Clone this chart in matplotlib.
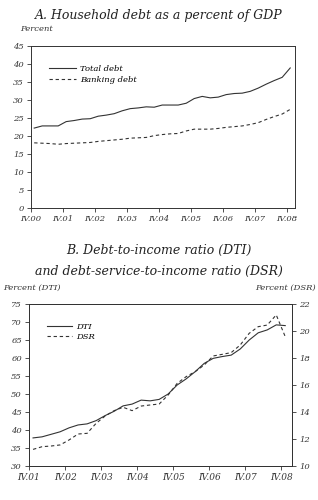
import matplotlib.pyplot as plt
import numpy as np

# Panel A: household debt, % of GDP, quarterly IV.00 .. IV.08
years_a = ["IV.00", "IV.01", "IV.02", "IV.03", "IV.04", "IV.05", "IV.06", "IV.07", "IV.08"]
total_debt = [22.2, 22.8, 22.8, 22.8, 24.0, 24.3, 24.7, 24.8, 25.5, 25.8, 26.2,
              27.0, 27.6, 27.8, 28.1, 28.0, 28.6, 28.6, 28.6, 29.1, 30.4, 31.0,
              30.6, 30.8, 31.5, 31.8, 31.9, 32.4, 33.3, 34.4, 35.4, 36.3, 38.9]
banking_debt = [18.1, 18.0, 17.9, 17.7, 17.9, 18.0, 18.1, 18.2, 18.5, 18.7, 18.9,
                19.1, 19.4, 19.5, 19.6, 20.1, 20.4, 20.6, 20.7, 21.4, 21.9, 21.9,
                21.9, 22.1, 22.4, 22.6, 22.8, 23.2, 23.7, 24.6, 25.4, 26.1, 27.4]

# Panel B: DTI (left axis) and DSR (right axis), IV.01 .. IV.08
years_b = ["IV.01", "IV.02", "IV.03", "IV.04", "IV.05", "IV.06", "IV.07", "IV.08"]
dti = [37.8, 38.1, 38.8, 39.5, 40.6, 41.4, 41.7, 42.6, 44.0, 45.2, 46.7, 47.2,
       48.3, 48.1, 48.5, 50.0, 52.5, 54.2, 56.2, 58.5, 59.9, 60.4, 60.8, 62.5,
       65.0, 67.0, 67.8, 69.2, 69.0]
dsr = [11.23, 11.43, 11.48, 11.56, 11.93, 12.37, 12.42, 13.16, 13.70, 14.10,
       14.35, 14.10, 14.44, 14.52, 14.59, 15.26, 16.12, 16.62, 16.99, 17.48,
       18.15, 18.27, 18.40, 18.96, 19.83, 20.32, 20.44, 21.19, 19.58]

plt.rcParams["font.family"] = "DejaVu Serif"
plt.rcParams["font.style"] = "italic"
col = "#333333"

fig = plt.figure(figsize=(3.18, 5.0), dpi=100)

# ---- Panel A
ax = fig.add_axes([31 / 318, 1 - 208 / 500, 264 / 318, 162 / 500])
xa = np.arange(len(total_debt)) + 0.4
ax.plot(xa, total_debt, color=col, lw=0.8, label="Total debt")
ax.plot(xa, banking_debt, color=col, lw=0.8, ls=(0, (3, 2.5)), label="Banking debt")
ax.set_xlim(0, 33)
ax.set_ylim(0, 45)
ax.set_yticks(range(0, 46, 5))
ax.set_xticks(np.arange(len(years_a)) * 4)
ax.set_xticklabels(years_a)
ax.tick_params(labelsize=6, direction="out", length=3, width=0.6, pad=2, colors=col)
for s in ax.spines.values():
    s.set_linewidth(0.7)
    s.set_color(col)
ax.legend(loc="upper left", bbox_to_anchor=(0.04, 0.93), frameon=False, fontsize=6,
          handlelength=3.2, handletextpad=0.5, labelspacing=0.4)
fig.text(0.5, 1 - 15 / 500, "A. Household debt as a percent of GDP", ha="center",
         va="center", fontsize=9, color="#222222")
fig.text(20 / 318, 1 - 29 / 500, "Percent", ha="left", va="center", fontsize=6,
         color=col)

# ---- Panel B
bx = fig.add_axes([29 / 318, 1 - 466 / 500, 263 / 318, 162 / 500])
xb = np.arange(len(dti)) + 0.45
l1, = bx.plot(xb, dti, color=col, lw=0.8, label="DTI")
bx.set_xlim(0, 29.2)
bx.set_ylim(30, 75)
bx.set_yticks(range(30, 76, 5))
bx.set_xticks(np.arange(len(years_b)) * 4)
bx.set_xticklabels(years_b)
bx2 = bx.twinx()
l2, = bx2.plot(xb, dsr, color=col, lw=0.8, ls=(0, (3, 2.5)), label="DSR")
bx2.set_ylim(10, 22)
bx2.set_yticks(range(10, 23, 2))
for a in (bx, bx2):
    a.tick_params(labelsize=6, direction="out", length=3, width=0.6, pad=2, colors=col)
    for s in a.spines.values():
        s.set_linewidth(0.7)
        s.set_color(col)
bx.tick_params(axis="x", labelsize=6.5)
bx.legend([l1, l2], ["DTI", "DSR"], loc="upper left", bbox_to_anchor=(0.04, 0.93),
          frameon=False, fontsize=6, handlelength=3.0, handletextpad=0.5,
          labelspacing=0.3)
fig.text(0.5, 1 - 250 / 500, "B. Debt-to-income ratio (DTI)", ha="center",
         va="center", fontsize=9, color="#222222")
fig.text(0.5, 1 - 271 / 500, "and debt-service-to-income ratio (DSR)", ha="center",
         va="center", fontsize=9, color="#222222")
fig.text(3 / 318, 1 - 288 / 500, "Percent (DTI)", ha="left", va="center",
         fontsize=6, color=col)
fig.text(316 / 318, 1 - 288 / 500, "Percent (DSR)", ha="right", va="center",
         fontsize=6, color=col)

fig.savefig("out.png", dpi=100)
